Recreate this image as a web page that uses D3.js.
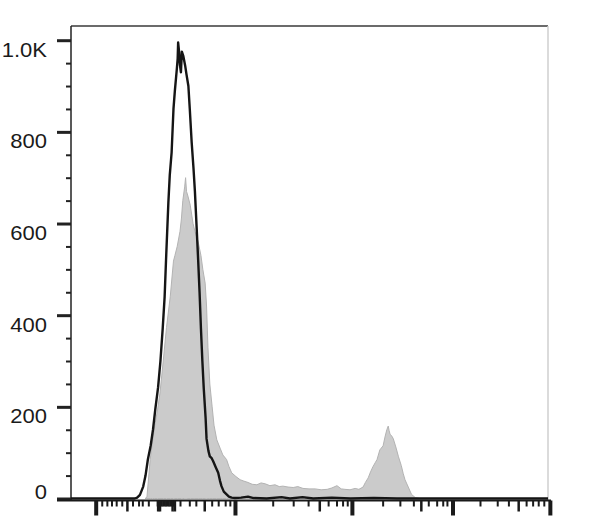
<!DOCTYPE html>
<html>
<head>
<meta charset="utf-8">
<script src="https://cdn.jsdelivr.net/npm/d3@7"></script>
<style>
  body { margin: 0; background: #fff; }
  svg { display: block; }
</style>
</head>
<body>
<svg id="chart" width="590" height="529"></svg>
<script>
// control (black outline) histogram: channel -> count
const ctrlChannel = [0, 137, 142, 148, 155, 160, 165, 171, 176, 181, 187, 192, 197, 201, 204, 209, 212, 216, 220, 223, 227, 229, 230, 232, 234, 236, 238, 241, 245, 248, 252, 255, 259, 263, 266, 270, 273, 276, 279, 282, 285, 289, 291, 295, 298, 302, 305, 310, 316, 320, 323, 328, 334, 339, 345, 352, 365, 380, 392, 420, 452, 470, 497, 520, 560, 600, 650, 700, 800, 1024];
const ctrlCount   = [0, 0, 2, 8, 26, 50, 85, 115, 150, 195, 243, 300, 373, 440, 520, 645, 705, 755, 850, 890, 935, 960, 995, 975, 945, 930, 975, 966, 945, 925, 900, 850, 778, 720, 670, 585, 520, 450, 370, 300, 240, 175, 130, 104, 92, 88, 82, 70, 56, 38, 27, 15, 9, 4, 2, 1, 2, 4, 1, 0, 3, 0, 3, 0, 2, 0, 1, 0, 0, 0];

// stained (grey filled) histogram: channel -> count
const stainChannel = [159, 163, 170, 175, 180, 186, 191, 198, 205, 213, 220, 223, 228, 234, 237, 240, 244, 246, 248, 251, 256, 262, 266, 273, 279, 283, 288, 291, 294, 298, 303, 307, 313, 320, 326, 334, 339, 345, 354, 363, 371, 380, 389, 399, 408, 417, 427, 438, 447, 455, 466, 477, 487, 498, 511, 524, 537, 550, 560, 571, 580, 588, 599, 610, 618, 627, 632, 638, 643, 648, 653, 657, 663, 670, 674, 678, 681, 683, 685, 689, 692, 698, 703, 709, 713, 717, 724, 731, 739, 749];
const stainCount   = [0, 3, 85, 125, 160, 195, 230, 300, 373, 440, 518, 530, 550, 583, 610, 650, 680, 700, 670, 660, 640, 600, 583, 560, 530, 500, 470, 420, 330, 250, 200, 160, 128, 110, 95, 85, 70, 56, 48, 41, 38, 35, 31, 30, 34, 32, 28, 30, 26, 27, 25, 24, 26, 22, 21, 21, 19, 20, 23, 28, 21, 20, 19, 22, 20, 25, 35, 45, 58, 69, 78, 85, 106, 115, 134, 150, 158, 148, 140, 136, 130, 110, 91, 72, 55, 41, 25, 9, 2, 0];

const yMajor  = [0, 200, 400, 600, 800, 1000];
const yLabels = ["0", "200", "400", "600", "800", "1.0K"];
const yMinor  = [50, 100, 150, 250, 300, 350, 450, 500, 550, 650, 700, 750, 850, 900, 950];

// x axis ticks (biexponential display, in channel units)
const xMajor = [53, 352, 603, 819, 1028];
const xMid   = [120, 186, 190, 217, 222, 286, 533, 751, 960];
const xMinor = [66, 77, 87, 97, 109, 132, 145, 153, 166, 185, 188, 191, 194, 197, 200, 203, 206, 209, 212, 215, 218, 221, 234, 254, 268, 302, 316, 331, 341,
                433, 477, 509, 552, 570, 583, 593, 669, 706, 735, 767, 785, 798, 807, 878, 915, 939, 977, 991, 1003, 1015];

const svg = d3.select("#chart");
const plotLeft = 71, plotRight = 548, plotTop = 26, plotBase = 498.5;

const x = d3.scaleLinear().domain([0, 1024]).range([plotLeft, plotRight]);
const y = d3.scaleLinear().domain([0, 1031]).range([plotBase, plotTop]);

// grey filled histogram
const area = d3.area()
    .x(d => x(d[0]))
    .y0(y(0))
    .y1(d => y(d[1]));

svg.append("path")
    .datum(d3.zip(stainChannel, stainCount))
    .attr("d", area)
    .attr("fill", "#cbcbcb")
    .attr("stroke", "#b3b3b3")
    .attr("stroke-width", 1);

// frame
svg.append("line").attr("x1", plotLeft).attr("x2", plotRight).attr("y1", plotTop).attr("y2", plotTop)
    .attr("stroke", "#3a3a3a").attr("stroke-width", 1.5);
svg.append("line").attr("x1", plotRight).attr("x2", plotRight).attr("y1", plotTop).attr("y2", plotBase + 2)
    .attr("stroke", "#cfcfcf").attr("stroke-width", 1.5);
svg.append("line").attr("x1", plotLeft).attr("x2", plotLeft).attr("y1", plotTop).attr("y2", plotBase + 2)
    .attr("stroke", "#222").attr("stroke-width", 1.5);

// black control histogram
const line = d3.line()
    .x(d => x(d[0]))
    .y(d => y(d[1]));

svg.append("path")
    .datum(d3.zip(ctrlChannel, ctrlCount))
    .attr("d", line)
    .attr("fill", "none")
    .attr("stroke", "#151515")
    .attr("stroke-width", 2.4)
    .attr("stroke-linejoin", "round");

// y axis
const yAxisMajor = svg.append("g")
    .attr("transform", `translate(${plotLeft},0)`)
    .call(d3.axisLeft(y).tickValues(yMajor).tickSize(14)
        .tickFormat((d, i) => yLabels[i]));

yAxisMajor.select(".domain").remove();
yAxisMajor.selectAll("line").attr("stroke", "#222").attr("stroke-width", 3);
yAxisMajor.selectAll("text")
    .attr("x", -24 / 1.1) // keep right edge in place after horizontal stretch
    .attr("dy", d => d === 0 ? 0 : 16)
    .attr("fill", "#1a1a1a")
    .style("font-family", "'Liberation Sans', Arial, sans-serif")
    .style("font-size", "20px")
    .attr("transform", "scale(1.1,1)")
    .attr("text-anchor", "end");

const yAxisMinor = svg.append("g")
    .attr("transform", `translate(${plotLeft},0)`)
    .call(d3.axisLeft(y).tickValues(yMinor).tickSize(5).tickFormat(""));
yAxisMinor.select(".domain").remove();
yAxisMinor.selectAll("line").attr("stroke", "#222").attr("stroke-width", 2);

// x axis baseline
svg.append("line")
    .attr("x1", 57).attr("x2", plotRight + 3)
    .attr("y1", plotBase + 2).attr("y2", plotBase + 2)
    .attr("stroke", "#1a1a1a").attr("stroke-width", 2);

function xTicks(values, size, width) {
    const g = svg.append("g")
        .attr("transform", `translate(0,${plotBase + 2})`)
        .call(d3.axisBottom(x).tickValues(values).tickSize(size).tickFormat(""));
    g.select(".domain").remove();
    g.selectAll("line").attr("stroke", "#1a1a1a").attr("stroke-width", width);
    return g;
}

xTicks(xMinor, 6, 2);
xTicks(xMid, 11, 2.5);
xTicks(xMajor, 15, 4);
</script>
</body>
</html>
